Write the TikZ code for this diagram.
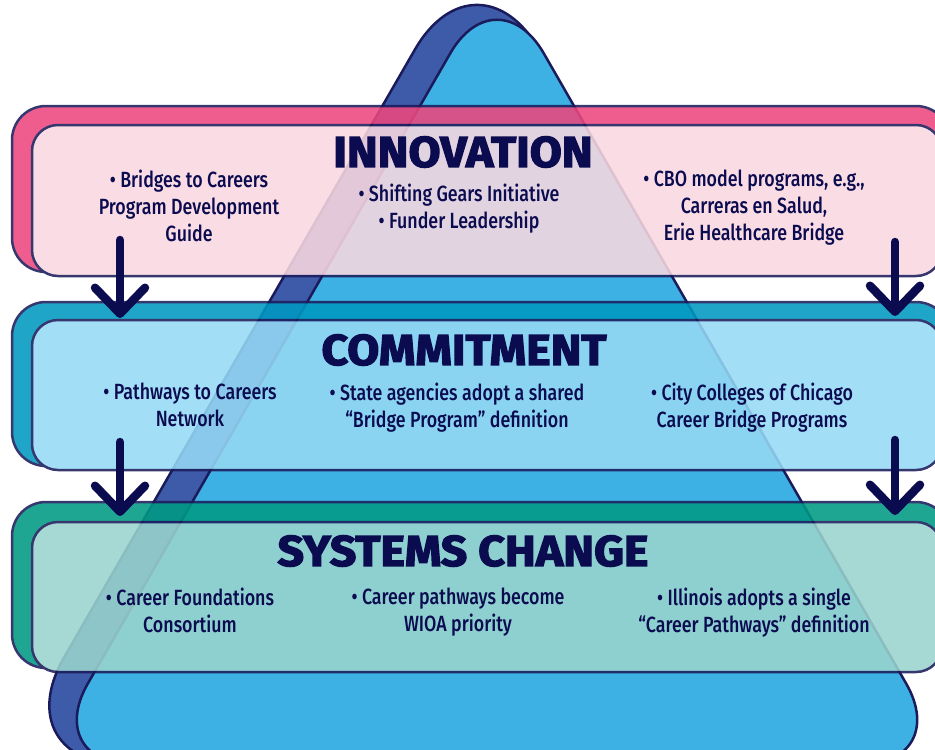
\documentclass[tikz,border=0pt]{standalone}
\usepackage{fontspec}
\setmainfont{Fira Sans}
\newfontfamily\bodyf{Fira Sans}[UprightFont={* Medium}, FakeStretch=0.81]
\newfontfamily\titlef{Fira Sans}[FakeStretch=1.08, BoldFeatures={FakeBold=3}]
\usetikzlibrary{arrows.meta}
\definecolor{navy}{HTML}{0B0B50}
\definecolor{edge}{HTML}{1B1B5B}
\definecolor{triB}{HTML}{3E5BA9}
\definecolor{triF}{HTML}{3DB1E4}
\definecolor{pinkB}{HTML}{EC477D}
\definecolor{pinkF}{HTML}{F9D8E0}
\definecolor{blueB}{HTML}{0098C0}
\definecolor{blueF}{HTML}{95D9F5}
\definecolor{greenB}{HTML}{009A84}
\definecolor{greenF}{HTML}{9AD4CD}
\tikzset{
  tri/.style={draw=edge, line width=2.5pt},
  bandgroup/.style={transparency group, opacity=0.88},
  backband/.style={draw=edge, line width=2.5pt, rounded corners=34pt},
  frontband/.style={draw=edge, line width=2.5pt, rounded corners=26pt},
  ttl/.style={text=navy, font=\titlef\bfseries\fontsize{43}{43}\selectfont, inner sep=0pt, anchor=center},
  body/.style={text=navy, font=\bodyf\fontsize{22}{27}\selectfont, align=center, inner sep=0pt, anchor=north},
  arr/.style={draw=navy, line width=8.5pt, line cap=round, -{Straight Barb[length=26pt,width=50pt,round]}}
}
\begin{document}
\begin{tikzpicture}[x=1pt,y=-1pt]
\useasboundingbox (0,0) rectangle (935,750);
\clip (0,0) rectangle (935,750);
% triangles
\draw[tri, fill=triB, rounded corners=124pt] (477,-58) -- (2,765) -- (952,765) -- cycle;
\draw[tri, fill=triF, rounded corners=94pt] (497,-28) -- (41,765) -- (953,765) -- cycle;
% bands
\begin{scope}[bandgroup]
\draw[backband, fill=pinkB] (12,106) rectangle (950,272);
\draw[frontband, fill=pinkF] (32,125) rectangle (942,276);
\end{scope}
\begin{scope}[bandgroup]
\draw[backband, fill=blueB] (12,302) rectangle (950,466);
\draw[frontband, fill=blueF] (32,320) rectangle (942,470);
\end{scope}
\begin{scope}[bandgroup]
\draw[backband, fill=greenB] (12,502) rectangle (950,668);
\draw[frontband, fill=greenF] (32,522) rectangle (942,672);
\end{scope}
% titles
\node[ttl] (t1) at (463,152) {INNOVATION};
\node[ttl] (t2) at (464,350) {COMMITMENT};
\node[ttl] (t3) at (463,551) {SYSTEMS CHANGE};
% body texts
\node[body] (i1) at (189,170) {• Bridges to Careers\\Program Development\\Guide};
\node[body] (i2) at (459,184) {• Shifting Gears Initiative\\• Funder Leadership};
\node[body] (i3) at (754,170) {• CBO model programs, e.g.,\\Carreras en Salud,\\Erie Healthcare Bridge};
\node[body] (c1) at (190,383) {• Pathways to Careers\\Network};
\node[body] (c2) at (457,383) {• State agencies adopt a shared\\“Bridge Program” definition};
\node[body] (c3) at (752,383) {• City Colleges of Chicago\\Career Bridge Programs};
\node[body] (s1) at (190,588) {• Career Foundations\\Consortium};
\node[body] (s2) at (458,588) {• Career pathways become\\WIOA priority};
\node[body] (s3) at (754,588) {• Illinois adopts a single\\“Career Pathways” definition};
% arrows
\coordinate (a1s) at (120,240);
\coordinate (a1e) at (120,318);
\coordinate (a2s) at (120,442);
\coordinate (a2e) at (120,516);
\coordinate (a3s) at (895,242);
\coordinate (a3e) at (895,316);
\coordinate (a4s) at (895,440);
\coordinate (a4e) at (895,515);
\draw[arr] (a1s) -- (a1e);
\draw[arr] (a2s) -- (a2e);
\draw[arr] (a3s) -- (a3e);
\draw[arr] (a4s) -- (a4e);
\end{tikzpicture}
\end{document}
